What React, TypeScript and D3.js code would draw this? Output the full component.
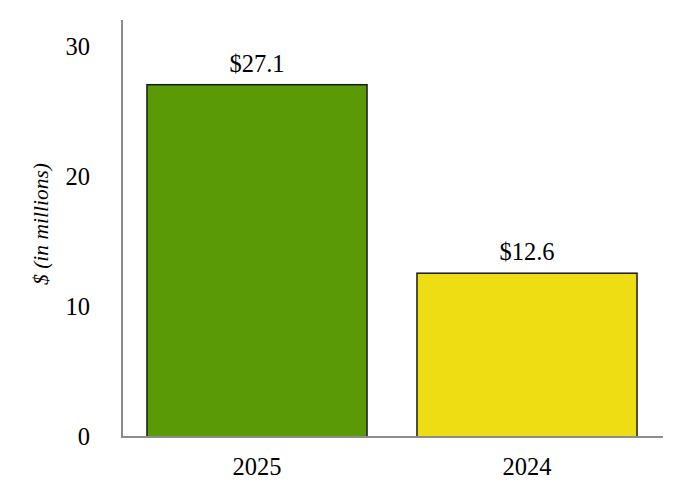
import React from "react";
import * as d3 from "d3";

const categories = ["2025", "2024"];
const values = [27.1, 12.6];
const valueLabels = ["$27.1", "$12.6"];
const colors = ["#5a9a07", "#eedd12"];
const yTicks = [0, 10, 20, 30];

export default function App() {
  const W = 682, H = 500;
  const left = 122, right = 662, bottom = 437, top = 20;
  const x = d3.scaleBand<string>().domain(categories).range([left, right]).paddingInner(0.185).paddingOuter(0.0925);
  const y = d3.scaleLinear().domain([0, 30]).range([bottom, 47]);
  const ts: React.CSSProperties = { fontFamily: "Liberation Serif" };
  const fs = 24.5;
  return (
    <svg width={W} height={H} style={{ position: "absolute", left: 0, top: 0, background: "#fff" }}>
      <line x1={left} x2={left} y1={top} y2={bottom} stroke="#8c8c8c" strokeWidth={2} />
      {yTicks.map((t) => (
        <text key={t} x={90} y={y(t)} dy="0.34em" textAnchor="end" fontSize={fs} fill="#000" style={ts}>{t}</text>
      ))}
      <text transform={`translate(48,${224}) rotate(-90)`} textAnchor="middle" fontSize={21.5} fontStyle="italic" fill="#000" style={ts}>$ (in millions)</text>
      {categories.map((c, i) => (
        <g key={c}>
          <rect x={x(c)!} y={y(values[i])} width={x.bandwidth()} height={bottom - y(values[i])} fill={colors[i]} stroke="#1a1a1a" strokeWidth={1.5} />
          <text x={x(c)! + x.bandwidth() / 2} y={y(values[i]) - 13} textAnchor="middle" fontSize={fs} fill="#000" style={ts}>{valueLabels[i]}</text>
          <text x={x(c)! + x.bandwidth() / 2} y={475} textAnchor="middle" fontSize={fs} fill="#000" style={ts}>{c}</text>
        </g>
      ))}
      <line x1={left - 1} x2={right + 1} y1={bottom} y2={bottom} stroke="#8c8c8c" strokeWidth={2} />
    </svg>
  );
}
